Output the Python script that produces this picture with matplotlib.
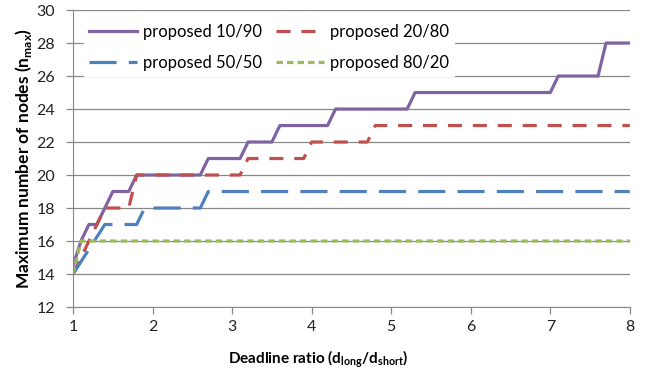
import matplotlib

matplotlib.use("Agg")
import matplotlib.pyplot as plt

plt.rcParams["font.family"] = ["Lato", "DejaVu Sans"]
plt.rcParams["mathtext.fontset"] = "custom"
plt.rcParams["mathtext.rm"] = "Lato"
plt.rcParams["mathtext.bf"] = "Lato:bold"

# breakpoints of each step curve (deadline ratio, n_max)
x_10_90 = [1.0, 1.1, 1.2, 1.3, 1.5, 1.7, 1.8, 2.6, 2.7, 3.1, 3.2, 3.5, 3.6, 4.2, 4.3, 5.2, 5.3, 7.0, 7.1, 7.6, 7.7, 8.0]
y_10_90 = [14.5, 16, 17, 17, 19, 19, 20, 20, 21, 21, 22, 22, 23, 23, 24, 24, 25, 25, 26, 26, 28, 28]

x_20_80 = [1.0, 1.4, 1.7, 1.8, 3.1, 3.2, 3.9, 4.0, 4.7, 4.8, 8.0]
y_20_80 = [14, 18, 18, 20, 20, 21, 21, 22, 22, 23, 23]

x_50_50 = [1.0, 1.4, 1.8, 1.9, 2.6, 2.7, 8.0]
y_50_50 = [14, 17, 17, 18, 18, 19, 19]

x_80_20 = [1.0, 1.1, 8.0]
y_80_20 = [14, 16, 16]

labels = ["proposed 10/90", "proposed 20/80", "proposed 50/50", "proposed 80/20"]

fig = plt.figure(figsize=(6.48, 3.72), dpi=100)
ax = fig.add_axes([0.1127, 0.1747, 0.8593, 0.7983])

lw = 2.3
l1, = ax.plot(x_10_90, y_10_90, color="#8064A2", lw=lw, label=labels[0])
l2, = ax.plot(x_20_80, y_20_80, color="#C0504D", lw=lw, dashes=(4.4, 3.4), label=labels[1])
l3, = ax.plot(x_50_50, y_50_50, color="#4F81BD", lw=lw, dashes=(8.5, 3.8), label=labels[2])
l4, = ax.plot(x_80_20, y_80_20, color="#9BBB59", lw=lw, dashes=(2.0, 1.3), label=labels[3])

ax.set_xlim(1, 8)
ax.set_ylim(12, 30)
ax.set_xticks(range(1, 9))
ax.set_yticks(range(12, 31, 2))
ax.grid(axis="y", color="#888888", lw=0.9)
ax.set_axisbelow(True)
for side in ["top", "right"]:
    ax.spines[side].set_visible(False)
for side in ["left", "bottom"]:
    ax.spines[side].set_color("#888888")
ax.tick_params(colors="#888888", labelcolor="#222222", labelsize=11.5, length=5, width=0.9)
ax.tick_params(axis="x", pad=4)
ax.tick_params(axis="y", pad=8)

ax.set_xlabel(r"Deadline ratio (d$_{\mathbf{long}}$/d$_{\mathbf{short}}$)", fontsize=11, fontweight="bold")
ax.xaxis.set_label_coords(0.44, -0.14)
ax.set_ylabel(r"Maximum number of nodes (n$_{\mathbf{max}}$)", fontsize=12.5, fontweight="bold")
ax.yaxis.set_label_coords(-0.07, 0.5)

# row-wise order like the original: 10/90, 20/80 / 50/50, 80/20
leg = ax.legend([l1, l3, l2, l4], [labels[0], labels[2], labels[1], labels[3]],
                ncol=2, loc="upper left", bbox_to_anchor=(0.005, 0.998), fontsize=12,
                handlelength=2.9, handletextpad=0.35, columnspacing=0.8, labelspacing=0.9,
                frameon=True, fancybox=False, borderpad=0.3)
leg.get_frame().set_facecolor("white")
leg.get_frame().set_edgecolor("white")
leg.get_frame().set_alpha(1)

fig.savefig("out.png", dpi=100)
plt.close(fig)
